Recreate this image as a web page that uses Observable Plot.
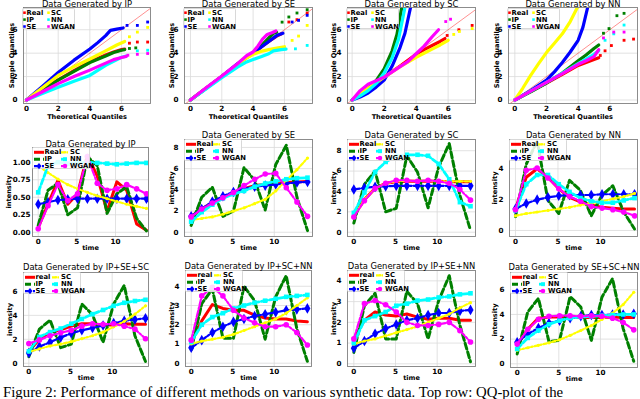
<!DOCTYPE html>
<html><head><meta charset="utf-8">
<script src="https://cdn.jsdelivr.net/npm/d3@7"></script>
<script src="https://cdn.jsdelivr.net/npm/@observablehq/plot@0.6"></script>
<style>
html,body{margin:0;padding:0;background:#fff;}
#root{position:relative;width:640px;height:399px;overflow:hidden;font-family:"DejaVu Sans",sans-serif;}
.panel{position:absolute;width:160px;height:130px;}
.panel > svg{position:absolute;left:0;top:0;overflow:visible;}
.leg{position:absolute;background:rgba(255,255,255,0.85);border:0.6px solid #d8d8d8;border-radius:1.5px;box-sizing:border-box;}
.leg span{position:absolute;font:bold 6.8px "DejaVu Sans";line-height:1;white-space:nowrap;transform:translateY(-50%);color:#000;}
.leg svg{position:absolute;overflow:visible;}
#cap{position:absolute;left:3px;top:385px;font:14.8px/15px "Liberation Serif",serif;white-space:nowrap;}
</style></head><body><div id="root"></div>
<script>
// ---------- categories / ticks ----------
const seriesNames = ["Real","IP","SE","SC","NN","WGAN"];
const qqXTicks = [0,2,4,6];
const qqYTicks = [0,2,4,6];
const tsXTicks = [0,5,10];
const time = [0,1.27,2.55,3.82,5.09,6.36,7.64,8.91,10.18,11.45,12.73,14];
const diag = [[-1,-1],[9,9]];

// ---------- QQ data (theoretical, sample) ----------
// Data generated by IP
const qqIP_Real = [[0,0],[1,0.88],[2,1.72],[3,2.5],[4,3.25],[5,3.85],[5.5,4.1],[6,4.3],[6.2,4.35]];
const qqIP_RealT = [[6.5,4.85],[7.0,4.95],[7.65,4.95]];
const qqIP_IP = [[0,0],[1,0.85],[2,1.7],[3,2.45],[4,3.2],[5,3.75],[5.5,4.05],[6,4.25],[6.2,4.3]];
const qqIP_IPT = [[6.5,4.4],[6.9,4.45]];
const qqIP_SE = [[0,0],[1,1.15],[2,2.35],[3,3.4],[4,4.35],[4.5,4.9],[5,5.5],[5.3,5.95],[5.7,6.05],[6.1,6.15]];
const qqIP_SET = [[6.35,6.37],[7.0,6.37],[7.65,6.66]];
const qqIP_SC = [[0,0],[1,1.05],[2,2.1],[3,2.85],[4,3.5],[5,4.2],[5.7,4.7],[6.2,5.0]];
const qqIP_SCT = [[6.5,5.4],[7.0,5.8],[7.65,6.2]];
const qqIP_NN = [[0,0],[1,0.55],[2,1.08],[3,1.6],[4,2.1],[5,2.95],[5.5,3.3],[6,3.65],[6.3,3.75]];
const qqIP_NNT = [[7.0,4.2],[7.65,4.25]];
const qqIP_WGAN = [[0,0],[1,0.7],[2,1.4],[3,2.0],[4,2.55],[5,3.15],[5.5,3.45],[6,3.63],[6.3,3.72]];
const qqIP_WGANT = [[6.4,3.82],[7.0,3.9],[7.65,3.97]];
// Data generated by SE
const qqSE_Real = [[0,0],[1,1],[2,2],[3,3.05],[4,4.0],[4.5,4.5],[5,5.0],[5.5,5.45],[5.8,5.65]];
const qqSE_RealT = [[6.28,6.66],[6.8,6.86],[7.45,7.43]];
const qqSE_IP = [[0,0],[1,1],[2,2],[3,3.05],[4,4.05],[4.5,4.6],[5,5.3],[5.3,5.7],[5.5,5.78]];
const qqSE_IPT = [[5.85,6.65],[6.28,7.09],[6.8,7.43],[7.45,7.71]];
const qqSE_SE = [[0,0],[1,1],[2,2],[3,3.1],[4,4.05],[4.5,4.5],[5,5.0],[5.5,5.5],[5.9,5.7]];
const qqSE_SET = [[6.49,6.66],[6.9,6.8],[7.45,7.23]];
const qqSE_SC = [[0,0],[1,1],[2,2],[3,3.0],[3.6,3.6],[4,3.9],[4.5,4.15],[5,4.3],[5.6,4.45],[6.0,4.55]];
const qqSE_SCT = [[6.49,5.09],[6.9,5.46],[7.45,6.37]];
const qqSE_NN = [[0,0],[1,0.95],[2,1.9],[3,2.8],[3.5,3.2],[4,3.45],[4.5,3.7],[5,3.95],[5.3,4.2],[5.8,4.3],[6.1,4.35]];
const qqSE_NNT = [[6.7,4.37],[7.45,4.66]];
const qqSE_WGAN = [[0,0],[1,1.05],[2,2.05],[3,3.1],[3.6,3.8],[4,4.1],[4.3,4.6],[4.6,5.2],[4.9,5.6],[5.2,5.75],[5.45,5.9]];
const qqSE_WGANT = [];
// Data generated by SC
const qqSC_Real = [[0,0],[1,1.0],[2,1.95],[3,2.9],[4,3.9],[4.5,4.3],[5,4.65],[5.5,5.0],[5.8,5.25]];
const qqSC_RealT = [[5.94,5.51],[6.67,6.0],[7.5,6.37]];
const qqSC_IP = [[0,0],[0.5,0.45],[1,0.95],[1.5,1.65],[2,2.65],[2.5,4.2],[2.8,5.6],[3.1,7.9]];
const qqSC_IPT = [];
const qqSC_SE = [[0,0],[0.5,0.25],[1,0.6],[1.5,1.1],[2,1.7],[2.5,2.9],[3,4.5],[3.3,5.7],[3.65,7.9]];
const qqSC_SET = [];
const qqSC_SC = [[0,0],[1,1.0],[2,1.95],[3,2.85],[4,3.65],[5,4.35],[5.5,4.7],[6,5.1]];
const qqSC_SCT = [[6.35,5.6],[6.7,5.85],[7.5,6.1]];
const qqSC_NN = [[0,0],[0.5,0.35],[1,0.8],[1.5,1.4],[2,2.3],[2.5,3.6],[2.9,5.2],[3.3,7.9]];
const qqSC_NNT = [];
const qqSC_WGAN = [[0,0],[0.5,0.8],[1,1.35],[1.5,1.65],[2,1.95],[3,2.85],[3.5,3.3],[4,3.95],[4.5,4.6],[5,5.4],[5.4,6.0]];
const qqSC_WGANT = [[5.85,6.7],[6.15,6.9]];
// Data generated by NN
const qqNN_Real = [[0,0],[1,0.75],[2,1.45],[3,2.2],[4,2.95],[4.5,3.2],[5,3.45],[5.3,3.6]];
const qqNN_RealT = [[5.4,3.8],[5.7,4.2],[6.1,4.65],[6.9,5.1],[7.5,5.2]];
const qqNN_IP = [[0,0],[1,0.7],[2,1.45],[3,2.3],[4,3.35],[4.5,3.85],[5,4.4],[5.3,4.7]];
const qqNN_IPT = [[5.6,5.7],[5.95,6.1],[6.45,7.2],[6.9,7.4]];
const qqNN_SE = [[0,0],[1,0.8],[2,1.7],[2.5,2.4],[3,3.2],[3.5,4.1],[4,5.1],[4.3,6.2],[4.6,7.9]];
const qqNN_SET = [];
const qqNN_SC = [[0,0],[0.5,1.0],[1,2.1],[1.5,3.1],[2,4.05],[2.5,4.85],[3,5.65],[3.5,6.7],[3.95,7.9]];
const qqNN_SCT = [];
const qqNN_NN = [[0,0],[1,0.75],[2,1.5],[3,2.3],[4,3.1],[4.5,3.5],[5,3.9],[5.3,4.2]];
const qqNN_NNT = [[5.7,5.1],[6.25,5.65],[6.9,6.4]];
const qqNN_WGAN = [[0,0],[1,0.75],[2,1.5],[3,2.25],[4,3.05],[4.5,3.35],[5,3.7],[5.3,4.3]];
const qqNN_WGANT = [[5.6,5.3],[6.25,5.8],[6.9,5.8]];

// ---------- intensity series (values at `time`) ----------
const tsIP_Real = [0.07,0.4,0.74,0.4,0.55,1.1,0.8,0.3,0.72,0.6,0.12,0.03];
const tsIP_IP   = [0.1,0.6,0.7,0.25,0.35,1.08,0.95,0.27,0.55,0.65,0.2,0.02];
const tsIP_SE   = [0.4,0.43,0.46,0.47,0.48,0.48,0.48,0.48,0.48,0.48,0.48,0.48];
const tsIP_SC   = [0.95,0.85,0.76,0.68,0.62,0.57,0.52,0.48,0.44,0.4,0.37,0.34];
const tsIP_NN   = [0.57,0.95,1.0,0.98,0.99,1.0,0.99,0.98,0.97,0.98,0.99,0.99];
const tsIP_WGAN = [0.05,0.38,0.68,0.45,0.55,1.08,0.7,0.6,0.62,0.68,0.62,0.55];

const tsSE_Real = [1.5,2.2,2.8,3.3,3.7,4.1,4.4,4.5,4.6,4.7,4.75,4.8];
const tsSE_IP   = [0.65,3.3,4.25,1.5,2.0,6.1,4.9,2.1,6.4,8.2,3.3,0.15];
const tsSE_SE   = [1.5,2.2,2.9,3.4,3.8,4.1,4.3,4.4,4.5,4.6,4.7,4.75];
const tsSE_SC   = [1.15,1.3,1.45,1.7,2.0,2.3,2.7,3.1,3.9,4.9,5.9,7.0];
const tsSE_NN   = [1.0,1.9,2.6,3.2,3.6,3.9,4.3,4.6,4.8,5.0,5.1,5.15];
const tsSE_WGAN = [1.45,2.2,2.75,3.25,3.75,4.4,5.0,5.5,5.55,4.2,2.85,1.5];

const tsSC_Real = [1.6,3.2,4.3,4.8,4.95,5.0,5.0,5.0,5.0,4.95,4.95,4.95];
const tsSC_IP   = [0.9,4.7,6.0,2.0,2.35,7.5,5.9,2.4,6.4,8.7,3.6,0.2];
const tsSC_SE   = [4.2,4.35,4.45,4.5,4.55,4.55,4.55,4.55,4.55,4.55,4.55,4.55];
const tsSC_SC   = [1.6,3.2,4.3,4.8,5.0,5.05,5.05,5.05,5.0,5.0,5.0,5.0];
const tsSC_NN   = [1.9,3.9,5.9,6.9,7.5,7.6,7.6,7.5,6.7,5.2,2.95,2.55];
const tsSC_WGAN = [1.5,3.1,4.3,4.8,5.1,5.1,5.0,5.1,5.0,4.8,4.2,3.15];

const tsNN_Real = [1.4,3.45,4.0,3.45,2.7,2.15,1.85,1.65,1.5,1.45,1.4,1.4];
const tsNN_IP   = [0.9,4.3,5.8,1.95,1.1,3.25,2.6,0.95,2.3,2.9,1.2,0.1];
const tsNN_SE   = [1.4,1.75,2.0,2.15,2.25,2.3,2.3,2.3,2.35,2.35,2.35,2.35];
const tsNN_SC   = [0.95,1.1,1.2,1.3,1.4,1.5,1.65,1.75,1.9,2.05,2.2,2.4];
const tsNN_NN   = [1.3,3.0,3.6,3.6,3.0,2.5,2.1,1.9,1.8,1.8,1.95,2.1];
const tsNN_WGAN = [1.35,3.9,4.05,3.4,2.7,2.2,1.9,1.55,1.45,1.35,1.2,0.95];

const tsISS_Real = [1.0,2.0,2.6,2.8,3.1,3.3,3.3,3.2,3.2,3.3,3.25,3.25];
const tsISS_IP   = [0.55,2.85,3.6,1.3,1.6,4.95,4.05,1.75,4.95,6.5,2.3,0.15];
const tsISS_SE   = [0.85,1.4,1.75,2.15,2.5,2.75,2.95,3.15,3.35,3.55,3.65,3.75];
const tsISS_SC   = [0.95,1.2,1.45,1.6,1.8,2.05,2.3,2.6,3.05,3.5,4.1,4.8];
const tsISS_NN   = [1.0,2.2,2.6,2.9,3.3,3.7,4.1,4.45,4.8,5.05,5.2,5.3];
const tsISS_WGAN = [1.65,1.95,2.3,2.55,2.75,3.1,3.3,3.25,3.3,3.1,2.85,2.05];

const tsISN_Real = [1.1,2.2,3.05,2.85,2.75,2.75,2.5,2.35,2.3,2.3,2.2,2.15];
const tsISN_IP   = [0.7,3.1,3.85,1.3,1.3,4.0,3.25,1.25,3.45,4.55,1.8,0.1];
const tsISN_SE   = [0.8,1.2,1.6,1.9,2.15,2.3,2.45,2.55,2.65,2.75,2.8,2.85];
const tsISN_SC   = [1.0,1.15,1.25,1.35,1.5,1.7,1.9,2.1,2.3,2.6,3.0,3.4];
const tsISN_NN   = [1.1,2.0,2.4,2.6,2.85,3.0,3.15,3.25,3.35,3.45,3.5,3.55];
const tsISN_WGAN = [1.2,3.5,3.95,3.5,2.75,2.35,2.1,1.9,1.9,2.0,1.6,0.95];

const tsIEN_Real = [1.2,2.1,2.5,2.35,2.3,2.4,2.25,2.15,2.2,2.2,2.1,2.1];
const tsIEN_IP   = [0.55,2.8,3.4,1.2,1.2,3.5,2.9,1.2,3.05,4.25,1.85,0.1];
const tsIEN_SE   = [0.75,1.1,1.45,1.7,1.9,2.1,2.2,2.35,2.45,2.45,2.55,2.6];
const tsIEN_SC   = [0.95,1.1,1.2,1.35,1.5,1.65,1.8,2.0,2.2,2.4,2.7,2.95];
const tsIEN_NN   = [1.0,2.1,2.3,2.5,2.8,2.9,3.05,3.1,3.2,3.25,3.35,3.4];
const tsIEN_WGAN = [1.2,2.9,3.05,2.85,2.5,2.0,1.85,1.85,1.9,2.0,1.6,1.05];

const tsSCN_Real = [1.5,2.8,3.7,3.8,3.8,3.8,3.75,3.75,3.75,3.8,3.75,3.75];
const tsSCN_IP   = [0.8,4.2,5.3,1.8,1.9,5.45,4.6,1.9,5.4,6.9,2.85,0.2];
const tsSCN_SE   = [1.75,2.4,2.9,3.3,3.5,3.7,3.85,3.95,3.95,4.0,4.0,4.05];
const tsSCN_SC   = [1.1,1.3,1.5,1.7,1.95,2.3,2.7,3.1,3.6,4.1,4.8,5.8];
const tsSCN_NN   = [1.2,2.1,2.7,3.2,3.5,3.7,3.8,3.85,3.9,3.95,4.0,4.0];
const tsSCN_WGAN = [1.6,2.8,3.6,3.85,3.9,3.9,3.85,3.9,3.85,3.7,3.35,2.75];

// ---------- styles ----------
const colors = {Real:"#ff0000", IP:"#008000", SE:"#0000ff", SC:"#ffff00", NN:"#00ffff", WGAN:"#ff00ff"};
const tsStyle = {
  Real:{sw:3, dash:null, sym:null},
  IP:{sw:3, dash:"6,3", sym:null},
  SE:{sw:2.2, dash:"6,2,2,2", sym:"diamond", r:3.2},
  SC:{sw:2.2, dash:"3.5,2,1.5,2", sym:"circle", r:1.6},
  NN:{sw:2.8, dash:"6,2.5", sym:"square", r:2.6},
  WGAN:{sw:2.2, dash:"6,2,2,2", sym:"circle", r:2.8}
};

// ---------- panel layout ----------
const panels = [
  {kind:"qq", title:"Data Generated by IP", c:0, r:0, frame:[23,150,7,103], tcy:3.9, xd:[-0.19,7.83], yd:[-0.3,7.9], yt:qqYTicks, ylx:11.2,
   body:[qqIP_Real,qqIP_IP,qqIP_SE,qqIP_SC,qqIP_NN,qqIP_WGAN], tail:[qqIP_RealT,qqIP_IPT,qqIP_SET,qqIP_SCT,qqIP_NNT,qqIP_WGANT]},
  {kind:"qq", title:"Data Generated by SE", c:1, r:0, frame:[24,152,7,103], tcy:3.9, xd:[-0.38,7.79], yd:[-0.3,7.9], yt:qqYTicks, ylx:11.2,
   body:[qqSE_Real,qqSE_IP,qqSE_SE,qqSE_SC,qqSE_NN,qqSE_WGAN], tail:[qqSE_RealT,qqSE_IPT,qqSE_SET,qqSE_SCT,qqSE_NNT,qqSE_WGANT]},
  {kind:"qq", title:"Data Generated by SC", c:2, r:0, frame:[27,155,7,103], tcy:3.9, xd:[-0.29,7.71], yd:[-0.3,7.9], yt:qqYTicks, ylx:13,
   body:[qqSC_Real,qqSC_IP,qqSC_SE,qqSC_SC,qqSC_NN,qqSC_WGAN], tail:[qqSC_RealT,qqSC_IPT,qqSC_SET,qqSC_SCT,qqSC_NNT,qqSC_WGANT]},
  {kind:"qq", title:"Data Generated by NN", c:3, r:0, frame:[28,157,7,103], tcy:3.9, xd:[-0.4,7.75], yd:[-0.3,7.9], yt:qqYTicks, ylx:16,
   body:[qqNN_Real,qqNN_IP,qqNN_SE,qqNN_SC,qqNN_NN,qqNN_WGAN], tail:[qqNN_RealT,qqNN_IPT,qqNN_SET,qqNN_SCT,qqNN_NNT,qqNN_WGANT]},

  {kind:"ts", title:"Data Generated by IP", c:0, r:1, frame:[32,148,17,106], tcy:13.5, xd:[-0.74,14.27], yd:[-0.06,1.21], yt:[0,0.25,0.5,0.75,1], ytf:d3.format(".2f"), ytp:2, ylx:8.5,
   vals:[tsIP_Real,tsIP_IP,tsIP_SE,tsIP_SC,tsIP_NN,tsIP_WGAN]},
  {kind:"ts", title:"Data Generated by SE", c:1, r:1, frame:[24,152,9,106], tcy:5, xd:[-0.8,14.6], yd:[-0.4,8.75], yt:[0,2,4,6,8], ylx:11.2,
   vals:[tsSE_Real,tsSE_IP,tsSE_SE,tsSE_SC,tsSE_NN,tsSE_WGAN]},
  {kind:"ts", title:"Data Generated by SC", c:2, r:1, frame:[27,155,9,106], tcy:5, xd:[-0.76,14.6], yd:[-0.42,9.1], yt:[0,2,4,6,8], ylx:13,
   vals:[tsSC_Real,tsSC_IP,tsSC_SE,tsSC_SC,tsSC_NN,tsSC_WGAN]},
  {kind:"ts", title:"Data Generated by NN", c:3, r:1, frame:[29,157,9,106], tcy:5, xd:[-0.7,14.35], yd:[-0.39,5.9], yt:[0,2,4], ylx:14.5,
   vals:[tsNN_Real,tsNN_IP,tsNN_SE,tsNN_SC,tsNN_NN,tsNN_WGAN]},

  {kind:"ts", lower:true, title:"Data Generated by IP+SE+SC", c:0, r:2, frame:[23,148,12,106], tcy:6.3, xd:[-0.64,14.36], yd:[-0.27,7.58], yt:[0,2,4,6], ylx:9.5,
   vals:[tsISS_Real,tsISS_IP,tsISS_SE,tsISS_SC,tsISS_NN,tsISS_WGAN]},
  {kind:"ts", lower:true, title:"Data Generated by IP+SC+NN", c:1, r:2, frame:[25,151,10,106], tcy:6, xd:[-0.69,14.5], yd:[-0.17,4.82], yt:[0,1,2,3,4], ylx:11.2,
   vals:[tsISN_Real,tsISN_IP,tsISN_SE,tsISN_SC,tsISN_NN,tsISN_WGAN]},
  {kind:"ts", lower:true, title:"Data Generated by IP+SE+NN", c:2, r:2, frame:[27,155,10,106], tcy:6, xd:[-0.76,14.6], yd:[-0.13,4.5], yt:[0,1,2,3,4], ylx:13,
   vals:[tsIEN_Real,tsIEN_IP,tsIEN_SE,tsIEN_SC,tsIEN_NN,tsIEN_WGAN]},
  {kind:"ts", lower:true, title:"Data Generated by SE+SC+NN", c:3, r:2, frame:[30,157,12,107], tcy:6.7, xd:[-0.8,14.45], yd:[-0.3,7.4], yt:[0,2,4,6], ylx:14.5,
   vals:[tsSCN_Real,tsSCN_IP,tsSCN_SE,tsSCN_SC,tsSCN_NN,tsSCN_WGAN]}
];

const root = document.getElementById("root");

function symbolSVG(sym, cx, cy, r, color){
  if (sym==="circle") return `<circle cx="${cx}" cy="${cy}" r="${r*0.8}" fill="${color}"/>`;
  if (sym==="square") return `<rect x="${cx-r*0.75}" y="${cy-r*0.75}" width="${r*1.5}" height="${r*1.5}" fill="${color}"/>`;
  if (sym==="diamond") return `<polygon points="${cx},${cy-r} ${cx+r*0.8},${cy} ${cx},${cy+r} ${cx-r*0.8},${cy}" fill="${color}"/>`;
  return "";
}

function buildLegend(p, div){
  const [fl,fr,ft,fb] = p.frame;
  const qq = p.kind==="qq";
  const box = document.createElement("div");
  box.className = "leg";
  const bl = qq ? fl-1.5 : fl;
  const bt = qq ? ft+1.2 : ft;
  Object.assign(box.style,{left:bl+"px", top:bt+"px", width:(qq?53:58)+"px", height:(qq?21:22)+"px"});
  let html = "";
  seriesNames.forEach((s,i)=>{
    const c = i<3?0:1, rr = i%3;
    const cy = (qq ? 3.7 : 4.3) + rr*6.9;
    const label = (p.lower && s==="Real") ? "real" : s;
    let tx;
    if (qq){
      const mx = c ? 25.5 : 1.5;
      html += `<svg style="left:0;top:0" width="1" height="1">${symbolSVG("square", mx, cy, 1.7, colors[s])}</svg>`;
      tx = c ? 28.5 : 4;
    } else {
      const x0 = c ? 28 : 1, x1 = c ? 36 : 11;
      const st = tsStyle[s];
      const dash = st.dash ? `stroke-dasharray="${st.dash}"` : "";
      html += `<svg style="left:0;top:0" width="1" height="1"><line x1="${x0}" x2="${x1}" y1="${cy}" y2="${cy}" stroke="${colors[s]}" stroke-width="${st.sw}" ${dash}/>${st.sym?symbolSVG(st.sym,(x0+x1)/2,cy,st.r,colors[s]):""}</svg>`;
      tx = c ? 37 : 11.5;
    }
    html += `<span style="left:${tx}px;top:${cy}px">${label}</span>`;
  });
  box.innerHTML = html;
  div.appendChild(box);
}

function buildPanel(p){
  const [fl,fr,ft,fb] = p.frame;
  const qq = p.kind==="qq";
  const xt = qq ? qqXTicks : tsXTicks;
  const marks = [
    Plot.gridX(xt, {stroke:"#dadada", strokeOpacity:1, strokeWidth:0.8}),
    Plot.gridY(p.yt, {stroke:"#dadada", strokeOpacity:1, strokeWidth:0.8})
  ];
  if (qq) marks.push(Plot.line(diag, {x:d=>d[0], y:d=>d[1], stroke:"#ff0000", strokeOpacity:0.55, strokeWidth:0.8, clip:true}));
  seriesNames.forEach((s,i)=>{
    if (qq){
      marks.push(Plot.line(p.body[i], {x:d=>d[0], y:d=>d[1], stroke:colors[s], strokeWidth:3.2, strokeLinejoin:"round", strokeLinecap:"round", clip:true}));
      if (p.tail[i].length) marks.push(Plot.dot(p.tail[i], {x:d=>d[0], y:d=>d[1], symbol:"square", r:1.6, fill:colors[s], stroke:"none", clip:true}));
    } else {
      const st = tsStyle[s];
      const data = time.map((t,j)=>({t, v:p.vals[i][j]}));
      const opts = {x:"t", y:"v", stroke:colors[s], strokeWidth:st.sw, clip:true};
      if (st.dash) opts.strokeDasharray = st.dash;
      marks.push(Plot.line(data, opts));
      if (st.sym) marks.push(Plot.dot(data, {x:"t", y:"v", symbol:st.sym, r:st.r, fill:colors[s], stroke:"none", clip:true}));
    }
  });
  marks.push(Plot.frame({stroke:"#808080", strokeWidth:0.9}));
  marks.push(Plot.axisX(xt, {tickSize:0, tickPadding:2.5, label:null, fontWeight:"bold", fontSize:7.2}));
  const yax = {tickSize:0, tickPadding:(p.ytp ?? 6), label:null, fontWeight:"bold", fontSize:7.2};
  if (p.ytf) yax.tickFormat = p.ytf;
  marks.push(Plot.axisY(p.yt, yax));
  marks.push(Plot.text([p.title], {frameAnchor:"top", dy:(p.tcy - ft), text:d=>d, fontSize:8.4, fontWeight:"normal", lineAnchor:"middle", textAnchor:"middle", fill:"#000"}));
  marks.push(Plot.text([qq ? "Theoretical Quantiles" : "time"], {frameAnchor:"bottom", dy:(qq?13.7:11.8), text:d=>d, fontSize:6.6, fontWeight:"bold", lineAnchor:"middle", textAnchor:"middle", fill:"#000"}));
  marks.push(Plot.text([qq ? "Sample Quantiles" : "intensity"], {frameAnchor:"left", dx:(p.ylx - fl), rotate:-90, text:d=>d, fontSize:6.6, fontWeight:"bold", lineAnchor:"middle", textAnchor:"middle", fill:"#000"}));

  const svg = Plot.plot({
    width:160, height:130,
    marginLeft:fl, marginRight:160-fr, marginTop:ft, marginBottom:130-fb,
    x:{domain:p.xd, axis:null},
    y:{domain:p.yd, axis:null},
    style:{fontFamily:"DejaVu Sans", fontSize:"7.2px", background:"transparent", overflow:"visible"},
    marks
  });
  const div = document.createElement("div");
  div.className = "panel";
  div.style.left = (p.c*160)+"px";
  div.style.top = (p.r*130)+"px";
  div.appendChild(svg);
  buildLegend(p, div);
  root.appendChild(div);
}

panels.forEach(buildPanel);

const cap = document.createElement("div");
cap.id = "cap";
cap.textContent = "Figure 2: Performance of different methods on various synthetic data. Top row: QQ-plot of the";
root.appendChild(cap);
</script></body></html>
